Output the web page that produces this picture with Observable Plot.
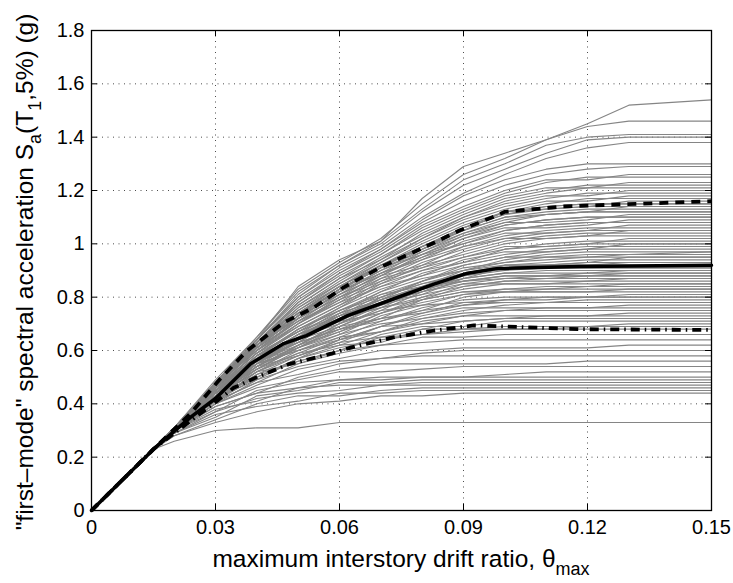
<!DOCTYPE html>
<html><head><meta charset="utf-8">
<script src="https://cdn.jsdelivr.net/npm/d3@7"></script>
<script src="https://cdn.jsdelivr.net/npm/@observablehq/plot@0.6"></script>
<style>body{margin:0;background:#fff}#chart{width:733px;height:583px}</style>
</head><body><div id="chart"></div>
<script>
// drift levels (theta_max) shared by all grey IDA curves
const driftGrid = [0, 0.015, 0.02, 0.03, 0.04, 0.05, 0.06, 0.07, 0.08, 0.09, 0.10, 0.11, 0.12, 0.13, 0.15];
// common elastic branch (Sa at drift 0 and 0.015)
const elasticSa = [0, 0.23];
// Sa values of individual records from drift 0.02 onward
const lowBand = [
  [0.26,0.30,0.31,0.31,0.33,0.33,0.33,0.33,0.33,0.33,0.33,0.33,0.33],
  [0.28,0.33,0.37,0.40,0.41,0.43,0.43,0.44,0.44,0.44,0.44,0.44,0.44],
  [0.29,0.36,0.39,0.41,0.44,0.44,0.45,0.45,0.45,0.45,0.45,0.45,0.45],
  [0.28,0.34,0.40,0.43,0.43,0.45,0.46,0.46,0.46,0.46,0.46,0.46,0.46],
  [0.29,0.37,0.42,0.44,0.45,0.47,0.47,0.47,0.47,0.47,0.47,0.47,0.47],
  [0.30,0.38,0.41,0.46,0.47,0.47,0.48,0.48,0.48,0.48,0.48,0.48,0.48],
  [0.29,0.35,0.43,0.45,0.48,0.48,0.49,0.49,0.49,0.49,0.49,0.49,0.49],
  [0.30,0.39,0.44,0.46,0.49,0.50,0.50,0.50,0.50,0.50,0.50,0.50,0.50],
  [0.30,0.37,0.45,0.48,0.49,0.49,0.50,0.50,0.51,0.52,0.52,0.52,0.52],
  [0.30,0.40,0.46,0.49,0.52,0.52,0.53,0.54,0.54,0.54,0.54,0.54,0.54],
  [0.30,0.39,0.44,0.50,0.53,0.55,0.55,0.55,0.55,0.55,0.56,0.56,0.56],
  [0.31,0.41,0.48,0.51,0.55,0.57,0.58,0.58,0.58,0.58,0.58,0.58,0.58],
  [0.30,0.40,0.47,0.53,0.56,0.57,0.59,0.60,0.60,0.60,0.60,0.60,0.60],
  [0.31,0.42,0.49,0.54,0.57,0.60,0.60,0.61,0.61,0.61,0.61,0.62,0.62],
  [0.31,0.41,0.48,0.55,0.59,0.62,0.63,0.64,0.64,0.64,0.64,0.64,0.64],
  [0.31,0.43,0.50,0.56,0.60,0.62,0.65,0.65,0.66,0.66,0.66,0.66,0.66]
];
const midLowBand = [
  [0.30,0.41,0.50,0.57,0.61,0.64,0.66,0.67,0.68,0.68,0.68,0.68,0.68],
  [0.31,0.43,0.52,0.55,0.60,0.65,0.66,0.68,0.69,0.69,0.69,0.69,0.69],
  [0.30,0.40,0.49,0.57,0.62,0.63,0.68,0.68,0.68,0.68,0.69,0.70,0.70],
  [0.31,0.42,0.51,0.56,0.60,0.66,0.69,0.69,0.71,0.71,0.71,0.71,0.71],
  [0.30,0.41,0.52,0.58,0.63,0.65,0.68,0.71,0.72,0.72,0.72,0.72,0.72],
  [0.31,0.43,0.50,0.57,0.64,0.67,0.70,0.71,0.72,0.73,0.73,0.73,0.73],
  [0.30,0.42,0.53,0.59,0.62,0.67,0.71,0.73,0.73,0.73,0.73,0.74,0.74],
  [0.31,0.41,0.51,0.58,0.64,0.69,0.70,0.73,0.75,0.75,0.75,0.75,0.75],
  [0.30,0.43,0.52,0.60,0.65,0.67,0.72,0.74,0.75,0.76,0.76,0.76,0.76],
  [0.31,0.42,0.54,0.58,0.63,0.69,0.73,0.76,0.76,0.76,0.76,0.77,0.77],
  [0.30,0.44,0.53,0.61,0.66,0.70,0.72,0.75,0.77,0.78,0.78,0.78,0.78],
  [0.31,0.41,0.52,0.59,0.65,0.71,0.75,0.77,0.78,0.78,0.78,0.78,0.78],
  [0.31,0.43,0.55,0.60,0.64,0.69,0.74,0.78,0.78,0.78,0.79,0.79,0.79],
  [0.30,0.42,0.53,0.62,0.67,0.72,0.74,0.77,0.79,0.80,0.80,0.80,0.80],
  [0.31,0.44,0.54,0.61,0.68,0.71,0.76,0.79,0.80,0.80,0.80,0.80,0.80],
  [0.31,0.42,0.55,0.60,0.66,0.73,0.77,0.78,0.79,0.79,0.80,0.81,0.81],
  [0.30,0.43,0.54,0.62,0.69,0.72,0.75,0.80,0.82,0.82,0.82,0.82,0.82],
  [0.31,0.44,0.53,0.61,0.67,0.74,0.78,0.81,0.82,0.83,0.83,0.83,0.83],
  [0.31,0.42,0.56,0.63,0.68,0.72,0.79,0.82,0.82,0.82,0.82,0.83,0.83],
  [0.31,0.43,0.54,0.62,0.70,0.75,0.77,0.81,0.83,0.84,0.84,0.84,0.84],
  [0.30,0.44,0.55,0.63,0.68,0.74,0.80,0.83,0.85,0.85,0.85,0.85,0.85],
  [0.31,0.43,0.56,0.61,0.69,0.76,0.79,0.82,0.83,0.83,0.84,0.85,0.85],
  [0.31,0.44,0.54,0.64,0.71,0.74,0.79,0.84,0.86,0.86,0.86,0.86,0.86],
  [0.31,0.45,0.56,0.62,0.70,0.77,0.81,0.84,0.86,0.87,0.87,0.87,0.87],
  [0.30,0.43,0.55,0.64,0.69,0.75,0.82,0.85,0.85,0.85,0.86,0.87,0.87],
  [0.31,0.44,0.57,0.63,0.72,0.76,0.80,0.85,0.87,0.88,0.88,0.88,0.88],
  [0.31,0.45,0.55,0.65,0.70,0.78,0.82,0.86,0.88,0.88,0.88,0.88,0.88],
  [0.31,0.44,0.56,0.63,0.72,0.76,0.83,0.86,0.87,0.87,0.88,0.89,0.89],
  [0.30,0.45,0.57,0.64,0.71,0.78,0.81,0.87,0.89,0.89,0.89,0.89,0.89],
  [0.31,0.44,0.56,0.65,0.73,0.77,0.83,0.87,0.89,0.90,0.90,0.90,0.90],
  [0.31,0.46,0.57,0.64,0.72,0.79,0.84,0.86,0.88,0.88,0.89,0.90,0.90],
  [0.31,0.45,0.56,0.66,0.73,0.78,0.82,0.88,0.90,0.91,0.91,0.91,0.91],
  [0.31,0.44,0.58,0.65,0.74,0.79,0.84,0.87,0.91,0.91,0.91,0.91,0.91],
  [0.31,0.46,0.57,0.66,0.72,0.80,0.85,0.89,0.91,0.92,0.92,0.92,0.92]
];
const midHighBand = [
  [0.31,0.44,0.56,0.65,0.72,0.78,0.84,0.88,0.91,0.92,0.93,0.93,0.93],
  [0.31,0.45,0.58,0.64,0.73,0.79,0.83,0.89,0.92,0.92,0.92,0.93,0.93],
  [0.31,0.44,0.57,0.66,0.71,0.80,0.85,0.88,0.92,0.93,0.94,0.94,0.94],
  [0.31,0.45,0.56,0.65,0.74,0.79,0.86,0.90,0.93,0.94,0.95,0.95,0.95],
  [0.31,0.44,0.58,0.67,0.73,0.81,0.84,0.90,0.92,0.92,0.93,0.95,0.95],
  [0.31,0.45,0.57,0.66,0.75,0.80,0.86,0.91,0.93,0.95,0.96,0.96,0.96],
  [0.31,0.46,0.58,0.67,0.74,0.82,0.87,0.90,0.94,0.96,0.97,0.97,0.97],
  [0.31,0.45,0.57,0.68,0.75,0.81,0.86,0.92,0.95,0.95,0.95,0.96,0.97],
  [0.31,0.46,0.59,0.67,0.76,0.83,0.88,0.92,0.95,0.97,0.98,0.98,0.98],
  [0.31,0.45,0.58,0.68,0.75,0.82,0.89,0.93,0.96,0.98,0.99,0.99,0.99],
  [0.31,0.46,0.59,0.69,0.77,0.84,0.88,0.94,0.97,0.97,0.98,1.00,1.00],
  [0.31,0.45,0.58,0.68,0.76,0.85,0.90,0.93,0.98,0.99,1.00,1.00,1.00],
  [0.31,0.46,0.59,0.70,0.78,0.84,0.90,0.95,0.98,1.00,1.01,1.01,1.01],
  [0.31,0.47,0.60,0.69,0.77,0.86,0.91,0.95,0.99,0.99,1.00,1.02,1.02],
  [0.31,0.46,0.59,0.70,0.79,0.85,0.92,0.96,1.00,1.02,1.03,1.03,1.03],
  [0.31,0.45,0.60,0.71,0.78,0.87,0.91,0.97,1.01,1.03,1.04,1.04,1.04],
  [0.31,0.47,0.60,0.70,0.80,0.86,0.93,0.98,1.02,1.02,1.03,1.05,1.05],
  [0.31,0.46,0.61,0.71,0.79,0.88,0.92,0.99,1.02,1.04,1.05,1.05,1.05],
  [0.31,0.47,0.60,0.72,0.80,0.87,0.94,0.99,1.03,1.05,1.06,1.06,1.06],
  [0.31,0.46,0.61,0.71,0.81,0.88,0.95,1.00,1.04,1.04,1.05,1.07,1.07],
  [0.31,0.47,0.60,0.72,0.80,0.89,0.94,1.01,1.05,1.07,1.08,1.08,1.08],
  [0.31,0.46,0.61,0.73,0.81,0.88,0.96,1.00,1.05,1.07,1.08,1.08,1.08],
  [0.31,0.47,0.62,0.72,0.82,0.89,0.95,1.02,1.06,1.06,1.07,1.09,1.09],
  [0.31,0.46,0.61,0.73,0.81,0.90,0.96,1.02,1.07,1.09,1.10,1.10,1.10],
  [0.31,0.47,0.62,0.72,0.82,0.89,0.97,1.03,1.07,1.09,1.10,1.10,1.10],
  [0.31,0.46,0.61,0.73,0.83,0.91,0.96,1.03,1.08,1.08,1.09,1.11,1.11],
  [0.31,0.47,0.62,0.74,0.82,0.90,0.98,1.04,1.09,1.11,1.12,1.12,1.12],
  [0.31,0.46,0.61,0.73,0.83,0.91,0.97,1.04,1.08,1.11,1.12,1.12,1.12],
  [0.31,0.47,0.62,0.74,0.82,0.92,0.98,1.05,1.10,1.12,1.13,1.13,1.13],
  [0.31,0.46,0.61,0.73,0.83,0.91,0.99,1.05,1.10,1.11,1.12,1.14,1.14],
  [0.31,0.47,0.62,0.74,0.84,0.92,0.98,1.06,1.11,1.13,1.14,1.14,1.14],
  [0.31,0.46,0.62,0.73,0.83,0.91,0.99,1.06,1.11,1.14,1.15,1.15,1.15],
  [0.31,0.47,0.61,0.74,0.84,0.92,0.99,1.05,1.12,1.14,1.15,1.15,1.15],
  [0.31,0.47,0.62,0.74,0.83,0.92,0.99,1.06,1.12,1.13,1.14,1.16,1.16]
];
const highBand = [
  [0.31,0.47,0.62,0.74,0.84,0.92,1.00,1.07,1.12,1.15,1.17,1.17,1.17],
  [0.31,0.47,0.63,0.75,0.84,0.93,1.01,1.08,1.13,1.16,1.16,1.18,1.18],
  [0.31,0.46,0.62,0.75,0.85,0.93,1.02,1.09,1.14,1.17,1.19,1.19,1.19],
  [0.31,0.47,0.63,0.76,0.85,0.94,1.02,1.10,1.15,1.18,1.18,1.20,1.20],
  [0.31,0.47,0.62,0.76,0.86,0.95,1.03,1.10,1.16,1.19,1.21,1.21,1.21],
  [0.31,0.47,0.63,0.77,0.87,0.94,1.04,1.11,1.17,1.20,1.22,1.22,1.22],
  [0.31,0.48,0.63,0.77,0.87,0.96,1.05,1.12,1.18,1.21,1.21,1.23,1.23],
  [0.31,0.47,0.63,0.78,0.88,0.96,1.06,1.13,1.19,1.23,1.25,1.25,1.25],
  [0.31,0.48,0.63,0.78,0.89,0.97,1.07,1.14,1.20,1.24,1.24,1.26,1.26],
  [0.31,0.48,0.64,0.79,0.89,0.98,1.08,1.16,1.22,1.26,1.28,1.29,1.29],
  [0.31,0.48,0.64,0.80,0.90,0.98,1.09,1.18,1.24,1.28,1.30,1.30,1.30],
  [0.31,0.48,0.64,0.80,0.91,0.99,1.10,1.19,1.26,1.32,1.36,1.38,1.38],
  [0.31,0.48,0.64,0.81,0.92,1.00,1.12,1.22,1.28,1.34,1.39,1.40,1.40],
  [0.31,0.48,0.65,0.82,0.92,1.01,1.13,1.24,1.30,1.37,1.40,1.41,1.41],
  [0.31,0.49,0.65,0.83,0.93,1.02,1.15,1.26,1.32,1.39,1.44,1.46,1.46],
  [0.31,0.48,0.64,0.84,0.94,1.01,1.17,1.29,1.34,1.39,1.45,1.52,1.54]
];
// summarized curves: 50%, 84%, 16% fractiles
const medianDrift = [0, 0.015, 0.024, 0.030, 0.0385, 0.0465, 0.052, 0.056, 0.062, 0.0707, 0.083, 0.091, 0.098, 0.118, 0.15];
const medianSa    = [0, 0.23, 0.35, 0.42, 0.55, 0.626, 0.656, 0.686, 0.731, 0.78, 0.85, 0.89, 0.907, 0.915, 0.92];
const upperDrift  = [0, 0.015, 0.024, 0.0312, 0.0377, 0.0465, 0.0537, 0.061, 0.0707, 0.083, 0.089, 0.097, 0.100, 0.114, 0.15];
const upperSa     = [0, 0.23, 0.364, 0.495, 0.60, 0.705, 0.76, 0.837, 0.918, 1.005, 1.05, 1.10, 1.12, 1.14, 1.16];
const lowerDrift  = [0, 0.015, 0.020, 0.026, 0.032, 0.0344, 0.040, 0.048, 0.058, 0.0627, 0.073, 0.083, 0.0925, 0.100, 0.118, 0.15];
const lowerSa     = [0, 0.23, 0.29, 0.36, 0.43, 0.46, 0.50, 0.55, 0.588, 0.611, 0.649, 0.675, 0.694, 0.69, 0.68, 0.677];
// axes
const xTicks = [0, 0.03, 0.06, 0.09, 0.12, 0.15];
const xTickLabels = ["0", "0.03", "0.06", "0.09", "0.12", "0.15"];
const yTicks = [0, 0.2, 0.4, 0.6, 0.8, 1.0, 1.2, 1.4, 1.6, 1.8];
const yTickLabels = ["0", "0.2", "0.4", "0.6", "0.8", "1", "1.2", "1.4", "1.6", "1.8"];

const greyRows = [];
let curveId = 0;
[lowBand, midLowBand, midHighBand, highBand].forEach(band => band.forEach(vals => {
  const sa = elasticSa.concat(vals);
  sa.forEach((v, j) => greyRows.push({curve: curveId, drift: driftGrid[j], sa: v}));
  curveId++;
}));
const toPts = (xs, ys) => xs.map((x, i) => ({drift: x, sa: ys[i]}));
const medianPts = toPts(medianDrift, medianSa);
const upperPts = toPts(upperDrift, upperSa);
const lowerPts = toPts(lowerDrift, lowerSa);

const W = 733, H = 583, mL = 91, mR = 22, mT = 30, mB = 73;
const pW = W - mL - mR, pH = H - mT - mB;
const font = "'Liberation Sans', Arial, Helvetica, sans-serif";

const chart = Plot.plot({
  width: W, height: H,
  marginLeft: mL, marginRight: mR, marginTop: mT, marginBottom: mB,
  style: {fontFamily: font, fontSize: "20px", background: "#fff", color: "#000", overflow: "visible"},
  x: {domain: [0, 0.15]},
  y: {domain: [0, 1.8]},
  marks: [
    Plot.gridX(xTicks, {stroke: "#000", strokeOpacity: 0.7, strokeDasharray: "1,4.5"}),
    Plot.gridY(yTicks, {stroke: "#000", strokeOpacity: 0.7, strokeDasharray: "1,4.5"}),
    Plot.line(greyRows, {x: "drift", y: "sa", z: "curve", stroke: "#858585", strokeWidth: 1.1}),
    Plot.line(medianPts, {x: "drift", y: "sa", stroke: "#000", strokeWidth: 3.5}),
    Plot.line(upperPts, {x: "drift", y: "sa", stroke: "#000", strokeWidth: 3.8, strokeDasharray: "9,7", strokeLinecap: "butt"}),
    Plot.line(lowerPts, {x: "drift", y: "sa", stroke: "#000", strokeWidth: 3.8, strokeDasharray: "9,5,1.5,5", strokeLinecap: "butt"}),
    Plot.frame({stroke: "#000", strokeWidth: 1.3}),
    Plot.tickX(xTicks, {x: d => d, insetTop: pH - 6, stroke: "#000"}),
    Plot.tickX(xTicks, {x: d => d, insetBottom: pH - 6, stroke: "#000"}),
    Plot.tickY(yTicks, {y: d => d, insetRight: pW - 6, stroke: "#000"}),
    Plot.tickY(yTicks, {y: d => d, insetLeft: pW - 6, stroke: "#000"}),
    Plot.axisX(xTicks, {tickSize: 0, tickPadding: 9, label: null, fontSize: 20,
      tickFormat: d => xTickLabels[xTicks.indexOf(d)]}),
    Plot.axisY(yTicks, {tickSize: 0, tickPadding: 7, label: null, fontSize: 20,
      tickFormat: d => yTickLabels[yTicks.indexOf(d)]})
  ]
});
document.getElementById("chart").appendChild(chart);

const svg = d3.select(chart);
const xl = svg.append("text")
  .attr("x", mL + pW / 2).attr("y", 567)
  .attr("text-anchor", "middle").attr("font-family", font).attr("font-size", 24.5).attr("fill", "#000");
xl.append("tspan").text("maximum interstory drift ratio, θ");
xl.append("tspan").attr("font-size", 18).attr("dy", 8).text("max");

const yl = svg.append("text")
  .attr("transform", `translate(33,${mT + pH / 2 + 2}) rotate(-90)`)
  .attr("text-anchor", "middle").attr("font-family", font).attr("font-size", 24.5).attr("fill", "#000");
yl.append("tspan").text("\"first–mode\" spectral acceleration S");
yl.append("tspan").attr("font-size", 18).attr("dy", 8).text("a");
yl.append("tspan").attr("dy", -8).text("(T");
yl.append("tspan").attr("font-size", 18).attr("dy", 8).text("1");
yl.append("tspan").attr("dy", -8).text(",5%) (g)");
</script>
</body></html>
